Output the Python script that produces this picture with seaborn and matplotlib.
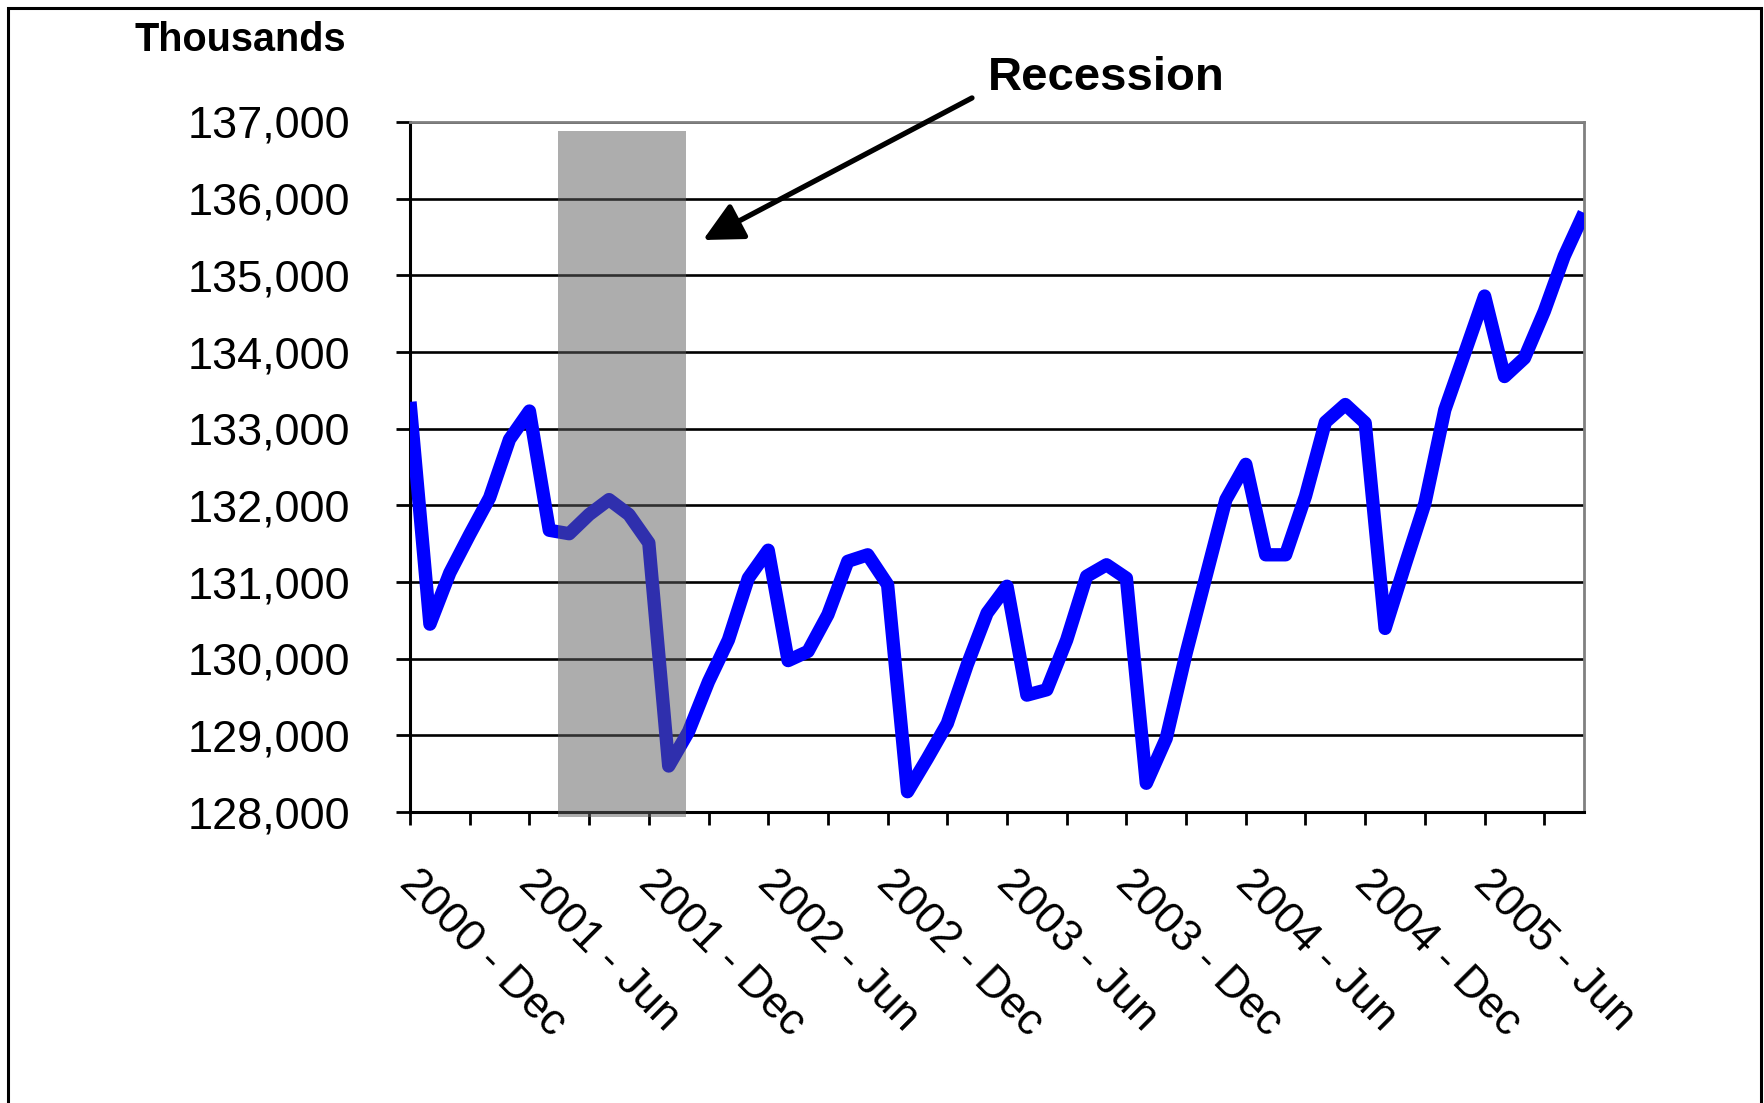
import matplotlib
matplotlib.use("Agg")
import matplotlib.pyplot as plt
from matplotlib.patches import Rectangle
from matplotlib.ticker import FuncFormatter
from matplotlib.transforms import ScaledTranslation
import numpy as np
import pandas as pd
import seaborn as sns

# Nonfarm payroll employment, thousands, monthly from Dec 2000
employment = [
    133350, 130450, 131120, 131620, 132100, 132860, 133230, 131675, 131630, 131880,
    132075, 131880, 131510, 128600, 129050, 129700, 130245, 131050, 131415, 129975,
    130095, 130575, 131270, 131355, 130965, 128265, 128700, 129155, 129920, 130595,
    130945, 129525, 129595, 130245, 131075, 131225, 131050, 128375, 128960, 130070,
    131075, 132075, 132535, 131355, 131355, 132120, 133085, 133315, 133075, 130395,
    131220, 132025, 133245, 133985, 134730, 133680, 133920, 134530, 135250, 135815,
]
months = pd.period_range("2000-12", periods=len(employment), freq="M")

tick_labels = [
    "2000 - Dec", "2001 - Jun", "2001 - Dec", "2002 - Jun", "2002 - Dec",
    "2003 - Jun", "2003 - Dec", "2004 - Jun", "2004 - Dec", "2005 - Jun",
]
label_step = 6
minor_step = 3
y_ticks = list(range(128000, 137001, 1000))

# shaded recession band (month index span, value span)
recession_x = (7.44, 13.87)
recession_y = (127935, 136887)

sns.set_theme(style="white")
plt.rcParams["font.family"] = ["Liberation Sans", "DejaVu Sans"]

fig = plt.figure(figsize=(17.65, 11.03), dpi=100)
ax = fig.add_axes([0.2323, 0.2638, 0.6652, 0.6256])

df = pd.DataFrame({"month": np.arange(len(employment)),
                   "label": months.strftime("%Y - %b"),
                   "jobs": employment})
sns.lineplot(data=df, x="month", y="jobs", color="#0000FF", ax=ax, zorder=3)
for line in ax.lines:
    line.set_linewidth(9.6)
    line.set_solid_joinstyle("round")
    line.set_solid_capstyle("butt")

ax.set_xlim(0, len(employment) - 1)
ax.set_ylim(y_ticks[0], y_ticks[-1])
ax.set_xlabel("")
ax.set_ylabel("")

# horizontal gridlines
ax.set_axisbelow(True)
ax.yaxis.grid(True, color="black", linewidth=1.9)
ax.xaxis.grid(False)

for side in ("left", "bottom"):
    ax.spines[side].set_color("black")
    ax.spines[side].set_linewidth(2.2)
for side in ("top", "right"):
    ax.spines[side].set_visible(True)
    ax.spines[side].set_color("#808080")
    ax.spines[side].set_linewidth(2.0)

# y axis
ax.set_yticks(y_ticks)
ax.yaxis.set_major_formatter(FuncFormatter(lambda v, _: f"{int(v):,}"))
ax.tick_params(axis="y", left=True, length=10, width=2, color="black",
               direction="out", pad=33, labelsize=32.5, labelcolor="black")

# x axis: labels every 6 months, ticks every 3
ax.set_xticks(np.arange(0, len(employment), label_step))
ax.set_xticklabels(tick_labels)
ax.set_xticks(np.arange(minor_step, len(employment), label_step), minor=True)
ax.tick_params(axis="x", which="both", bottom=True, length=9.5, width=2,
               color="black", direction="out")
ax.tick_params(axis="x", which="major", pad=37, labelsize=31.8, labelcolor="black")
shift = ScaledTranslation(-4 / 100, 0, fig.dpi_scale_trans)
for lbl in ax.get_xticklabels():
    lbl.set_rotation(-45)
    lbl.set_ha("left")
    lbl.set_va("center")
    lbl.set_rotation_mode("anchor")
    lbl.set_transform(lbl.get_transform() + shift)

# recession shading
ax.add_patch(Rectangle((recession_x[0], recession_y[0]),
                       recession_x[1] - recession_x[0],
                       recession_y[1] - recession_y[0],
                       facecolor="#5E5E5E", alpha=0.51, edgecolor="none",
                       zorder=4, clip_on=False))

# annotation arrow and label
ax.annotate("", xy=(0.3983, 0.7824), xycoords="figure fraction",
            xytext=(0.5507, 0.9112), textcoords="figure fraction",
            annotation_clip=False,
            arrowprops=dict(arrowstyle="-|>,head_length=1.2,head_width=0.6",
                            mutation_scale=20, lw=3.8, color="black",
                            shrinkA=0, shrinkB=0))
fig.text(0.5598, 0.9293, "Recession", ha="left", va="center",
         fontsize=34, fontweight="bold", color="black")
fig.text(0.196, 0.964, "Thousands", ha="right", va="center",
         fontsize=28.5, fontweight="bold", color="black")

# outer frame
fig.add_artist(Rectangle((0.0045, -0.05), 0.9932, 1.0423, fill=False,
                         edgecolor="black", linewidth=2.2,
                         transform=fig.transFigure, clip_on=False))

fig.savefig("out.png", dpi=100)
